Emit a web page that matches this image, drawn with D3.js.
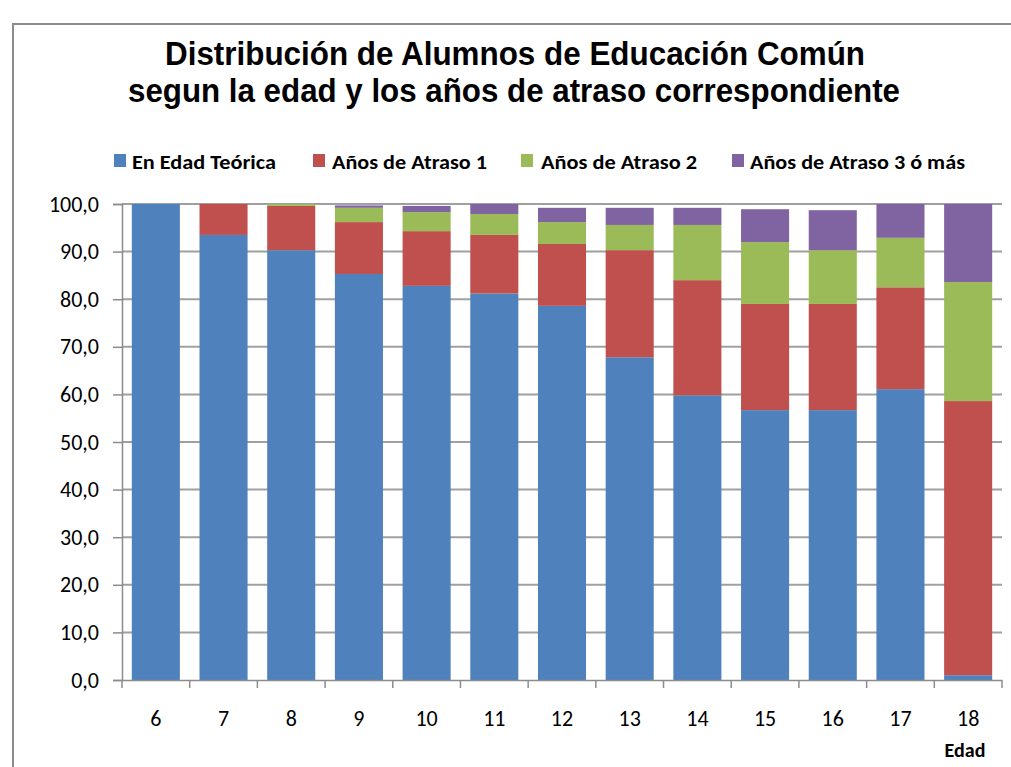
<!DOCTYPE html>
<html>
<head>
<meta charset="utf-8">
<script src="https://cdn.jsdelivr.net/npm/d3@7"></script>
<style>
  body { margin: 0; background: #fff; }
  svg { display: block; }
  .tick text { font-family: Carlito, Calibri, "Open Sans", sans-serif; }
</style>
</head>
<body>
<div id="chart"></div>
<script>
// edades (categorias)
var ages = ["6", "7", "8", "9", "10", "11", "12", "13", "14", "15", "16", "17", "18"];
// series, en %
var enEdad   = [100, 93.5, 90.3, 85.3, 82.8, 81.2, 78.6, 67.8, 59.8, 56.7, 56.7, 61.1, 1.0];
var atraso1  = [0, 6.5, 9.3, 10.9, 11.5, 12.3, 13.0, 22.5, 24.2, 22.3, 22.3, 21.4, 57.6];
var atraso2  = [0, 0, 0.4, 3.0, 4.0, 4.4, 4.6, 5.3, 11.6, 13.0, 11.3, 10.4, 25.0];
var atraso3  = [0, 0, 0, 0.5, 1.3, 2.1, 3.0, 3.6, 3.6, 6.9, 8.4, 7.1, 16.4];
var seriesNames = ["En Edad Teórica", "Años de Atraso 1", "Años de Atraso 2", "Años de Atraso 3 ó más"];
var yTicks = [0, 10, 20, 30, 40, 50, 60, 70, 80, 90, 100];

var colors = ["#4F81BD", "#C0504D", "#9BBB59", "#8064A2"];
var W = 1011, H = 767;
var plot = {left: 122, right: 1002, top: 204, bottom: 680};

var svg = d3.select("#chart").append("svg")
    .attr("width", W)
    .attr("height", H);

// marco del grafico
svg.append("rect")
    .attr("x", 13).attr("y", 24)
    .attr("width", W + 20).attr("height", H + 20)
    .attr("fill", "none")
    .attr("stroke", "#8c8c8c")
    .attr("stroke-width", 2);

// titulo
var title = svg.append("g")
    .attr("font-family", "'Liberation Sans', Arial, sans-serif")
    .attr("font-weight", "bold")
    .attr("font-size", 33)
    .attr("fill", "#000");
title.append("text")
    .attr("x", 165).attr("y", 65)
    .attr("textLength", 700).attr("lengthAdjust", "spacingAndGlyphs")
    .text("Distribución de Alumnos de Educación Común");
title.append("text")
    .attr("x", 128).attr("y", 102)
    .attr("textLength", 772).attr("lengthAdjust", "spacingAndGlyphs")
    .text("segun la edad y los años de atraso correspondiente");

// leyenda
var legendPos = [{sq: 114, tx: 132, w: 144}, {sq: 313, tx: 332, w: 155},
                 {sq: 521, tx: 541, w: 156}, {sq: 732, tx: 750, w: 215}];
var legend = svg.append("g");
seriesNames.forEach(function (name, i) {
    legend.append("rect")
        .attr("x", legendPos[i].sq).attr("y", 154)
        .attr("width", 12).attr("height", 13)
        .attr("fill", colors[i]);
    legend.append("text")
        .attr("x", legendPos[i].tx).attr("y", 169)
        .attr("font-family", "Carlito, Calibri, 'Open Sans', sans-serif")
        .attr("font-weight", "bold")
        .attr("font-size", 20)
        .attr("textLength", legendPos[i].w).attr("lengthAdjust", "spacingAndGlyphs")
        .text(name);
});

// escalas
var x = d3.scaleBand()
    .domain(ages)
    .range([plot.left, plot.right])
    .paddingInner(0.29)
    .paddingOuter(0.145);
var y = d3.scaleLinear()
    .domain([0, 100])
    .range([plot.bottom, plot.top]);

var locale = d3.formatLocale({decimal: ",", thousands: ".", grouping: [3], currency: ["$", ""]});
var fmt = locale.format(".1f");

// lineas de division
svg.append("g")
    .selectAll("line")
    .data(yTicks.slice(1))
    .join("line")
    .attr("x1", plot.left).attr("x2", plot.right)
    .attr("y1", function (d) { return y(d); })
    .attr("y2", function (d) { return y(d); })
    .attr("stroke", "#a0a0a0")
    .attr("stroke-width", 2);

// datos apilados
var rows = ages.map(function (a, i) {
    return {age: a, s0: enEdad[i], s1: atraso1[i], s2: atraso2[i], s3: atraso3[i]};
});
var stack = d3.stack().keys(["s0", "s1", "s2", "s3"])(rows);

svg.append("g")
    .selectAll("g")
    .data(stack)
    .join("g")
    .attr("fill", function (d, i) { return colors[i]; })
    .selectAll("rect")
    .data(function (d) { return d; })
    .join("rect")
    .attr("x", function (d) { return x(d.data.age); })
    .attr("y", function (d) { return y(d[1]); })
    .attr("width", x.bandwidth())
    .attr("height", function (d) { return y(d[0]) - y(d[1]); });

// eje Y
var yAxis = svg.append("g")
    .attr("transform", "translate(" + plot.left + ",0)")
    .call(d3.axisLeft(y).tickValues(yTicks).tickFormat(fmt).tickSize(9).tickPadding(14));
yAxis.select(".domain").attr("stroke", "#8c8c8c").attr("stroke-width", 1.5);
yAxis.selectAll(".tick line").attr("stroke", "#8c8c8c").attr("stroke-width", 1.5);
yAxis.selectAll(".tick text").attr("font-size", 22).attr("fill", "#000");

// eje X
var xAxis = svg.append("g")
    .attr("transform", "translate(0," + plot.bottom + ")")
    .call(d3.axisBottom(x).tickSize(0).tickPadding(30));
xAxis.select(".domain").attr("stroke", "#8c8c8c").attr("stroke-width", 1.5);
xAxis.selectAll(".tick text").attr("font-size", 22).attr("fill", "#000");
// marcas entre categorias
var step = x.step();
svg.append("g")
    .selectAll("line")
    .data(d3.range(ages.length + 1))
    .join("line")
    .attr("x1", function (i) { return plot.left + i * step; })
    .attr("x2", function (i) { return plot.left + i * step; })
    .attr("y1", plot.bottom).attr("y2", plot.bottom + 8)
    .attr("stroke", "#8c8c8c")
    .attr("stroke-width", 1.5);

svg.append("text")
    .attr("x", 965).attr("y", 757)
    .attr("text-anchor", "middle")
    .attr("font-family", "Carlito, Calibri, 'Open Sans', sans-serif")
    .attr("font-weight", "bold")
    .attr("font-size", 20)
    .text("Edad");
</script>
</body>
</html>
